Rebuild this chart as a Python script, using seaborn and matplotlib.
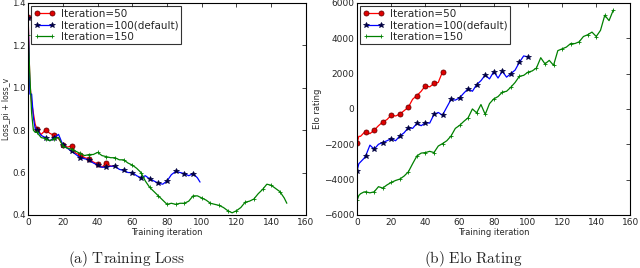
import numpy as np
import matplotlib
matplotlib.use("Agg")
import matplotlib.pyplot as plt
import seaborn as sns

# iteration grids
loss_x_50 = np.concatenate([[0, 1, 2, 3, 4], np.arange(5, 48, 2.5), [49]])
loss_x_100 = np.concatenate([[0, 1, 2, 3, 4], np.arange(5, 98, 2.5), [99]])
loss_x_150 = np.concatenate([[0, 1, 2, 3, 4], np.arange(5, 148, 2.5), [149]])
elo_x_50 = np.concatenate([[0, 1, 2, 3, 4], np.arange(5, 50.1, 2.5)])
elo_x_100 = np.concatenate([[0, 1, 2, 3, 4], np.arange(5, 100.1, 2.5)])
elo_x_150 = np.concatenate([[0, 1, 2, 3, 4], np.arange(5, 150.1, 2.5)])

# Training loss (Loss_pi + loss_v)
loss_50 = [1.335, 1.02, 0.93, 0.88, 0.83, 0.805, 0.78, 0.80, 0.785, 0.775, 0.76, 0.73,
           0.72, 0.725, 0.69, 0.685, 0.67, 0.665, 0.65, 0.64, 0.625, 0.645, 0.63, 0.63]
loss_100 = [1.33, 0.97, 0.97, 0.86, 0.81, 0.80, 0.775, 0.765, 0.75, 0.765, 0.78, 0.73,
            0.715, 0.70, 0.685, 0.67, 0.665, 0.66, 0.645, 0.635, 0.625, 0.625, 0.63, 0.63,
            0.615, 0.61, 0.60, 0.60, 0.585, 0.575, 0.585, 0.57, 0.56, 0.55, 0.545, 0.56,
            0.59, 0.605, 0.60, 0.595, 0.585, 0.595, 0.575, 0.555]
loss_150 = [1.25, 1.05, 0.88, 0.80, 0.79, 0.79, 0.765, 0.76, 0.75, 0.76, 0.765, 0.725,
            0.715, 0.71, 0.70, 0.69, 0.68, 0.685, 0.685, 0.695, 0.68, 0.675, 0.67, 0.67,
            0.66, 0.66, 0.645, 0.635, 0.62, 0.60, 0.56, 0.53, 0.51, 0.49, 0.47, 0.45,
            0.455, 0.45, 0.455, 0.455, 0.465, 0.49, 0.49, 0.48, 0.47, 0.455, 0.45, 0.445,
            0.435, 0.42, 0.41, 0.42, 0.435, 0.46, 0.465, 0.475, 0.50, 0.52, 0.545, 0.54,
            0.525, 0.51, 0.48, 0.455]

# Elo rating
elo_50 = [-1950, -1550, -1550, -1450, -1350, -1290, -1400, -1200, -950, -740, -600, -350,
          -400, -290, -100, 100, 550, 760, 1000, 1320, 1250, 1450, 1500, 2100]
elo_100 = [-3500, -3100, -3000, -2900, -2800, -2660, -2050, -2280, -2000, -1900, -1800,
           -1680, -1800, -1530, -1350, -1060, -1100, -820, -950, -780, -800, -310, -200,
           -350, 100, 540, 500, 630, 900, 1140, 1000, 1380, 1600, 1920, 1700, 2110, 1750,
           2130, 1800, 2000, 2200, 2640, 3000, 2950]
elo_150 = [-5170, -4900, -4800, -4750, -4700, -4690, -4750, -4690, -4400, -4480, -4300,
           -4160, -4050, -3970, -3800, -3560, -3100, -2660, -2500, -2470, -2400, -2470,
           -2100, -1960, -1800, -1530, -1100, -930, -700, -500, 0, -220, 250, -310, 300,
           570, 700, 950, 1000, 1230, 1500, 1850, 1900, 2080, 2150, 2320, 2900, 2550, 2750,
           2470, 3300, 3400, 3500, 3700, 3700, 3800, 4100, 4200, 4350, 4100, 4450, 5300,
           5000, 5600]

labels = ["Iteration=50", "Iteration=100(default)", "Iteration=150"]
colors = ["#ff0000", "#0000ff", "#008000"]
marker_styles = [
    dict(marker="o", markersize=3.6, markerfacecolor="#e00000", markeredgecolor="#700000",
         markeredgewidth=0.6),
    dict(marker="*", markersize=4, markerfacecolor="#000040", markeredgecolor="#000040",
         markeredgewidth=0.5),
    dict(marker="+", markersize=3, markeredgecolor="#008000", markeredgewidth=0.6),
]

sns.set_style("white")
plt.rcParams["font.family"] = ["DejaVu Sans"]
plt.rcParams["mathtext.fontset"] = "cm"

fig = plt.figure(figsize=(6.4, 2.68), dpi=100)
ax1 = fig.add_axes([0.044, 0.198, 0.434, 0.791])
ax2 = fig.add_axes([0.558, 0.198, 0.427, 0.791])


def every5(x):
    return [i for i, v in enumerate(x) if np.isclose(v % 5, 0)]


def draw(ax, xs, ys):
    for x, y, lab, col, ms in zip(xs, ys, labels, colors, marker_styles):
        sns.lineplot(x=x, y=y, ax=ax, color=col, linewidth=0.9, label=lab,
                     markevery=every5(x), sort=False, estimator=None, **ms)
    ax.set_xlim(0, 160)
    ax.set_xticks(range(0, 161, 20))
    ax.set_xlabel("Training iteration", fontsize=6, labelpad=1)
    ax.tick_params(direction="in", top=True, right=True, labelsize=6.5,
                   length=3, width=0.6, pad=2)
    for sp in ax.spines.values():
        sp.set_color("black")
        sp.set_linewidth(0.8)
    leg = ax.legend(loc="upper left", fontsize=7.5, frameon=True, fancybox=False,
                    borderaxespad=0.3, handlelength=2.0, labelspacing=0.15,
                    borderpad=0.25, numpoints=2, handletextpad=0.6)
    leg.get_frame().set_edgecolor("black")
    leg.get_frame().set_linewidth(0.8)


draw(ax1, [loss_x_50, loss_x_100, loss_x_150], [loss_50, loss_100, loss_150])
ax1.set_ylim(0.4, 1.4)
ax1.set_yticks([0.4, 0.6, 0.8, 1.0, 1.2, 1.4])
ax1.tick_params(axis="y", pad=1.5, labelsize=6.2)
ax1.set_ylabel("Loss_pi + loss_v", fontsize=5.5)
ax1.yaxis.set_label_coords(-0.062, 0.5)

draw(ax2, [elo_x_50, elo_x_100, elo_x_150], [elo_50, elo_100, elo_150])
ax2.set_ylim(-6000, 6000)
ax2.set_yticks(range(-6000, 6001, 2000))
ax2.set_ylabel("Elo rating", fontsize=6, labelpad=1)

fig.text(0.198, 0.018, r"$\mathrm{(a)\ Training\ Loss}$", ha="center", fontsize=11)
fig.text(0.74, 0.018, r"$\mathrm{(b)\ Elo\ Rating}$", ha="center", fontsize=11)

fig.savefig("out.png", dpi=100)
